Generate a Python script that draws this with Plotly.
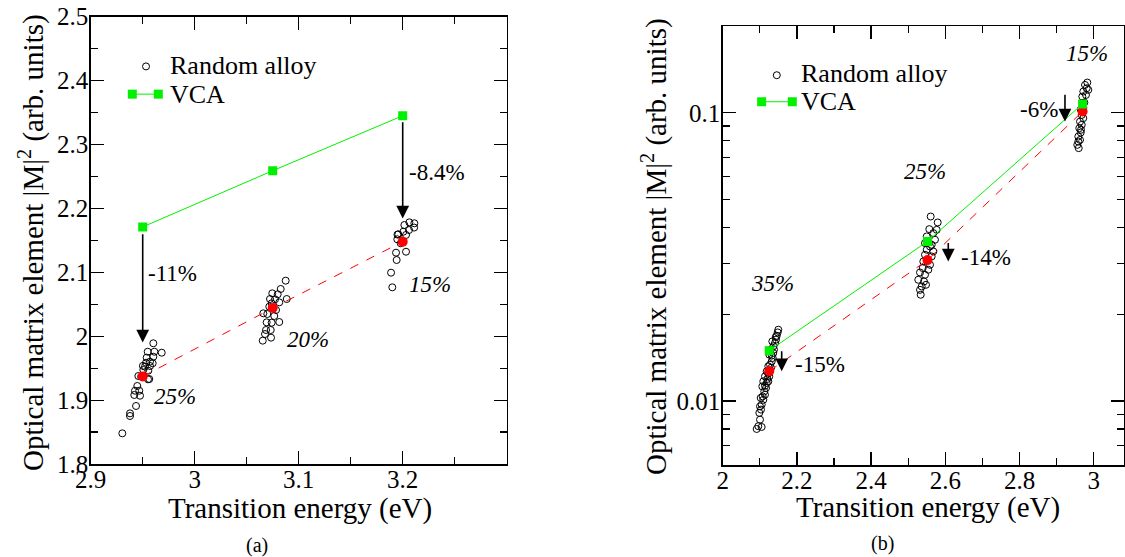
import numpy as np
import plotly.graph_objects as go

FONT = "Liberation Serif, Times New Roman, Times, DejaVu Serif, serif"
W, H = 1125, 557

# ---------------- Panel (a) data ----------------
a_alloy_x = [
    # 25 %
    2.9602, 2.9548, 2.9612, 2.9683, 2.9538, 2.9602, 2.9570, 2.9532, 2.9596, 2.9522,
    2.9570, 2.9506, 2.9554, 2.9458, 2.9563, 2.9448, 2.9426, 2.9467, 2.9419, 2.9474,
    2.9436, 2.9378, 2.9378, 2.9304, 2.9502, 2.9485, 2.9551,
    # 20 %
    3.0875, 3.0827, 3.0746, 3.0798, 3.0772, 3.0724, 3.0813, 3.0885, 3.0740, 3.0717,
    3.0782, 3.0660, 3.0698, 3.0765, 3.0692, 3.0740, 3.0813, 3.0686, 3.0731, 3.0676,
    3.0734, 3.0654,
    # 15 %
    3.2112, 3.2064, 3.2016, 3.2061, 3.2006, 3.1958, 3.2032, 3.1948, 3.1981, 3.1936,
    3.2032, 3.1942, 3.1888, 3.1900, 3.2110, 3.1950,
]
a_alloy_y = [
    1.9889, 1.9757, 1.9757, 1.9742, 1.9664, 1.9679, 1.9601, 1.9585, 1.9576, 1.9523,
    1.9534, 1.9471, 1.9460, 1.9377, 1.9330, 1.9221, 1.9147, 1.9147, 1.9080, 1.9069,
    1.8908, 1.8793, 1.8751, 1.8480, 1.9536, 1.9369, 1.9325,
    2.0869, 2.0739, 2.0671, 2.0656, 2.0577, 2.0582, 2.0530, 2.0582, 2.0515, 2.0462,
    2.0410, 2.0358, 2.0347, 2.0316, 2.0217, 2.0211, 2.0222, 2.0097, 2.0097, 2.0034,
    1.9977, 1.9930,
    2.1767, 2.1782, 2.1740, 2.1662, 2.1635, 2.1595, 2.1584, 2.1517, 2.1454, 2.1307,
    2.1322, 2.1192, 2.0994, 2.0765, 2.1700, 2.1590,
]
a_energy = [2.95, 3.075, 3.2]
a_vca = [2.171, 2.259, 2.345]
a_alloy_avg = [1.937, 2.044, 2.148]
a_conc_labels = ["25%", "20%", "15%"]
a_conc_pos = [(2.9807, 1.9063), (3.1086, 1.9953), (3.2259, 2.0814)]
a_arrows = [(2.95, 2.162, 1.990), (3.2, 2.337, 2.184)]
a_change_labels = ["-11%", "-8.4%"]
a_change_pos = [(2.9784, 2.0981), (3.2326, 2.2565)]

# ---------------- Panel (b) data ----------------
b_alloy_x = [
    # 35 %
    2.0916, 2.0960, 2.1050, 2.1005, 2.1032, 2.1051, 2.1095, 2.1078, 2.1140, 2.1121,
    2.1167, 2.1140, 2.1186, 2.1229, 2.1202, 2.1256, 2.1229, 2.1275, 2.1302, 2.1275,
    2.1321, 2.1348, 2.1321, 2.1364, 2.1383, 2.1364, 2.1410, 2.1437, 2.1456, 2.1482,
    2.1499, 2.1429, 2.1337, 2.1294, 2.1256, 2.1229, 2.1186, 2.1140, 2.1094, 2.1067,
    2.1024, 2.1005, 2.0987,
    # 25 %
    2.5606, 2.5795, 2.5569, 2.5677, 2.5499, 2.5453, 2.5633, 2.5499, 2.5677, 2.5453,
    2.5633, 2.5407, 2.5588, 2.5391, 2.5542, 2.5318, 2.5453, 2.5272, 2.5426, 2.5364,
    2.5480, 2.5318, 2.5337, 2.5768, 2.5722, 2.5588,
    # 15 %
    2.9828, 2.9766, 2.9811, 2.9720, 2.9792, 2.9693, 2.9747, 2.9677, 2.9720, 2.9631,
    2.9677, 2.9612, 2.9650, 2.9585, 2.9631, 2.9558, 2.9596, 2.9720, 2.9650, 2.9855,
    2.9658, 2.9585,
]
b_alloy_y = [
    0.00800, 0.00818, 0.00813, 0.00862, 0.00934, 0.00972, 0.01010, 0.01038, 0.01052, 0.01080,
    0.01110, 0.01130, 0.01155, 0.01170, 0.01193, 0.01218, 0.01245, 0.01278, 0.01303, 0.01337,
    0.01373, 0.01411, 0.01437, 0.01468, 0.01508, 0.01548, 0.01590, 0.01633, 0.01685, 0.01730,
    0.01768, 0.01668, 0.01610, 0.01508, 0.01448, 0.01320, 0.01268, 0.01218, 0.01170, 0.01124,
    0.01025, 0.00958, 0.00910,
    0.04367, 0.04164, 0.03948, 0.03825, 0.03724, 0.03532, 0.03484, 0.03348, 0.03303, 0.03217,
    0.03174, 0.03049, 0.02970, 0.02893, 0.02854, 0.02793, 0.02742, 0.02635, 0.02599, 0.02497,
    0.02531, 0.02431, 0.02337, 0.03926, 0.03626, 0.03437,
    0.1273, 0.1249, 0.1217, 0.1185, 0.1153, 0.1138, 0.1086, 0.0983, 0.0958, 0.0932,
    0.0908, 0.0884, 0.0854, 0.0827, 0.0805, 0.0774, 0.0754, 0.1040, 0.1026, 0.1201,
    0.0873, 0.0795,
]
b_energy = [2.1254, 2.552, 2.970]
b_vca = [0.01496, 0.0358, 0.1073]
b_alloy_avg = [0.01269, 0.03083, 0.1011]
b_conc_labels = ["35%", "25%", "15%"]
b_conc_pos = [(2.134, 0.02549), (2.545, 0.0625), (2.9815, 0.160)]
b_arrows = [(2.159, 0.01507, 0.01268), (2.608, 0.03578, 0.03050), (2.9226, 0.1169, 0.0932)]
b_change_labels = ["-15%", "-14%", "-6%"]
b_change_pos = [(2.2624, 0.01335), (2.7104, 0.0315), (2.853, 0.1023)]

a_xticks = [2.9, 3.0, 3.1, 3.2]
a_xtext = ["2.9", "3", "3.1", "3.2"]
a_yticks = [1.8, 1.9, 2.0, 2.1, 2.2, 2.3, 2.4, 2.5]
a_ytext = ["1.8", "1.9", "2", "2.1", "2.2", "2.3", "2.4", "2.5"]
b_xticks = [2.0, 2.2, 2.4, 2.6, 2.8, 3.0]
b_xtext = ["2", "2.2", "2.4", "2.6", "2.8", "3"]
b_yticks = [0.01, 0.1]
b_ytext = ["0.01", "0.1"]

A_XRANGE = [2.9, 3.3]
A_YRANGE = [1.8, 2.5]
B_XRANGE = [2.0, 2.0 + (1124 - 722.7) / 371]
B_YRANGE = [np.log10(0.006), np.log10(0.2)]

GREEN = "#00f000"
RED = "#ff0000"


def px(p):
    return p / W


def py(p):
    return 1 - p / H


fig = go.Figure()

for (xs, ys, en, vca, avg, xa, ya) in [
    (a_alloy_x, a_alloy_y, a_energy, a_vca, a_alloy_avg, "x", "y"),
    (b_alloy_x, b_alloy_y, b_energy, b_vca, b_alloy_avg, "x2", "y2"),
]:
    fig.add_trace(go.Scatter(x=xs, y=ys, mode="markers", xaxis=xa, yaxis=ya,
                             marker=dict(symbol="circle-open", size=7, color="black",
                                         line=dict(width=1, color="black")),
                             showlegend=False, name="Random alloy"))
    fig.add_trace(go.Scatter(x=en, y=avg, mode="lines+markers", xaxis=xa, yaxis=ya,
                             line=dict(color=RED, width=1, dash="dash"),
                             marker=dict(symbol="circle", size=10, color=RED),
                             showlegend=False))
    fig.add_trace(go.Scatter(x=en, y=vca, mode="lines+markers", xaxis=xa, yaxis=ya,
                             line=dict(color=GREEN, width=1),
                             marker=dict(symbol="square", size=9, color=GREEN),
                             showlegend=False, name="VCA"))

ann = []
shapes = []
tfont = dict(family=FONT, size=23, color="black")


def add_panel_labels(conc_labels, conc_pos, arrows, ch_labels, ch_pos, xr, yr, logy):
    f = (lambda v: np.log10(v)) if logy else (lambda v: v)
    for t, (x, y) in zip(conc_labels, conc_pos):
        ann.append(dict(x=x, y=f(y), xref=xr, yref=yr, text="<i>" + t + "</i>",
                        showarrow=False, font=tfont))
    for t, (x, y) in zip(ch_labels, ch_pos):
        ann.append(dict(x=x, y=f(y), xref=xr, yref=yr, text=t, showarrow=False, font=tfont))
    for (x, y0, y1) in arrows:
        ann.append(dict(x=x, y=f(y1), ax=x, ay=f(y0), xref=xr, yref=yr, axref=xr, ayref=yr,
                        text="", showarrow=True, arrowhead=2, arrowsize=1.6,
                        arrowwidth=1.6, arrowcolor="black"))


add_panel_labels(a_conc_labels, a_conc_pos, a_arrows, a_change_labels, a_change_pos, "x", "y", False)
add_panel_labels(b_conc_labels, b_conc_pos, b_arrows, b_change_labels, b_change_pos, "x2", "y2", True)

# legends (drawn manually, xmgrace style) in axis-domain coordinates
lfont = dict(family=FONT, size=26, color="black")


def legend(axname, xrange_, yrange_, logy, circ, text_x, y1, y2, line_x0, line_x1):
    fy = (lambda v: np.log10(v)) if logy else (lambda v: v)
    dx = lambda v: (v - xrange_[0]) / (xrange_[1] - xrange_[0])
    dy = lambda v: (fy(v) - yrange_[0]) / (yrange_[1] - yrange_[0])
    xr, yr = axname[0] + " domain", axname[1] + " domain"
    shapes.append(dict(type="circle", xref=xr, yref=yr, xsizemode="pixel", ysizemode="pixel",
                       xanchor=dx(circ[0]), yanchor=dy(circ[1]), x0=-3.5, x1=3.5, y0=-3.5, y1=3.5,
                       line=dict(color="black", width=1)))
    ann.append(dict(x=dx(text_x), y=dy(y1), xref=xr, yref=yr, text="Random alloy",
                    showarrow=False, xanchor="left", yanchor="middle", font=lfont))
    shapes.append(dict(type="line", xref=xr, yref=yr, x0=dx(line_x0), x1=dx(line_x1),
                       y0=dy(y2), y1=dy(y2), line=dict(color=GREEN, width=1)))
    for xx in (line_x0, line_x1):
        shapes.append(dict(type="rect", xref=xr, yref=yr, xsizemode="pixel", ysizemode="pixel",
                           xanchor=dx(xx), yanchor=dy(y2), x0=-4.5, x1=4.5, y0=-4.5, y1=4.5,
                           fillcolor=GREEN, line=dict(width=0)))
    ann.append(dict(x=dx(text_x), y=dy(y2), xref=xr, yref=yr, text="VCA", showarrow=False,
                    xanchor="left", yanchor="middle", font=lfont))


legend(("x", "y"), A_XRANGE, A_YRANGE, False, (2.9532, 2.4222), 2.974, 2.4233, 2.3788,
       2.940, 2.965)
legend(("x2", "y2"), B_XRANGE, B_YRANGE, True, (2.1458, 0.1350), 2.205, 0.1370, 0.1092,
       2.105, 2.1876)

# axis titles and captions (positions in page pixels)
titfont = dict(family=FONT, size=29, color="black")
capfont = dict(family=FONT, size=20, color="black")
ytitle = "Optical matrix element |M|<sup>2</sup> (arb. units)"
for (cx, cy, txt, ang, fnt) in [
    (300, 508, "Transition energy (eV)", 0, titfont),
    (928, 507, "Transition energy (eV)", 0, titfont),
    (31, 243, ytitle, -90, titfont),
    (655, 247, ytitle, -90, titfont),
    (257, 545, "(a)", 0, capfont),
    (882, 543, "(b)", 0, capfont),
]:
    ann.append(dict(x=px(cx), y=py(cy), xref="paper", yref="paper", showarrow=False,
                    xanchor="center", yanchor="middle", text=txt, textangle=ang, font=fnt))

tickfont = dict(family=FONT, size=25, color="black")
common = dict(showgrid=False, zeroline=False, showline=True, linecolor="black", linewidth=1.5,
              mirror="ticks", ticks="inside", ticklen=13, tickwidth=1.2, tickcolor="black",
              tickfont=tickfont, automargin=False, ticklabeloverflow="allow")
minor_common = dict(ticks="inside", ticklen=7, tickwidth=1.2, tickcolor="black")

fig.update_layout(
    template="none",
    width=W, height=H,
    margin=dict(l=0, r=0, t=0, b=0, autoexpand=False),
    paper_bgcolor="white", plot_bgcolor="white",
    font=dict(family=FONT, color="black"),
    showlegend=False,
    xaxis=dict(domain=[px(90.7), px(506.7)], range=A_XRANGE, anchor="y",
               tickvals=a_xticks, ticktext=a_xtext, ticklabelstandoff=-8,
               minor=dict(tickvals=[2.95, 3.05, 3.15, 3.25], **minor_common), **common),
    yaxis=dict(domain=[py(464), py(16.7)], range=A_YRANGE, anchor="x",
               tickvals=a_yticks, ticktext=a_ytext, ticklabelstandoff=-4,
               minor=dict(tickvals=[1.85, 1.95, 2.05, 2.15, 2.25, 2.35, 2.45], **minor_common),
               **common),
    xaxis2=dict(domain=[px(722.7), px(1124)], range=B_XRANGE,
                anchor="y2", tickvals=b_xticks, ticktext=b_xtext, ticklabelstandoff=-8,
                minor=dict(tickvals=[2.1, 2.3, 2.5, 2.7, 2.9], **minor_common), **common),
    yaxis2=dict(domain=[py(465), py(26)], type="log", range=B_YRANGE, anchor="x2",
                tickvals=b_yticks, ticktext=b_ytext, ticklabelstandoff=-4,
                minor=dict(tickvals=[0.007, 0.008, 0.009, 0.02, 0.03, 0.04, 0.05, 0.06, 0.07,
                                     0.08, 0.09], **minor_common),
                **common),
    annotations=ann,
    shapes=shapes,
)

fig.write_html("out.html", config={"displayModeBar": False, "staticPlot": True},
               post_script="document.body.style.margin='0';document.body.style.overflow='hidden';")
